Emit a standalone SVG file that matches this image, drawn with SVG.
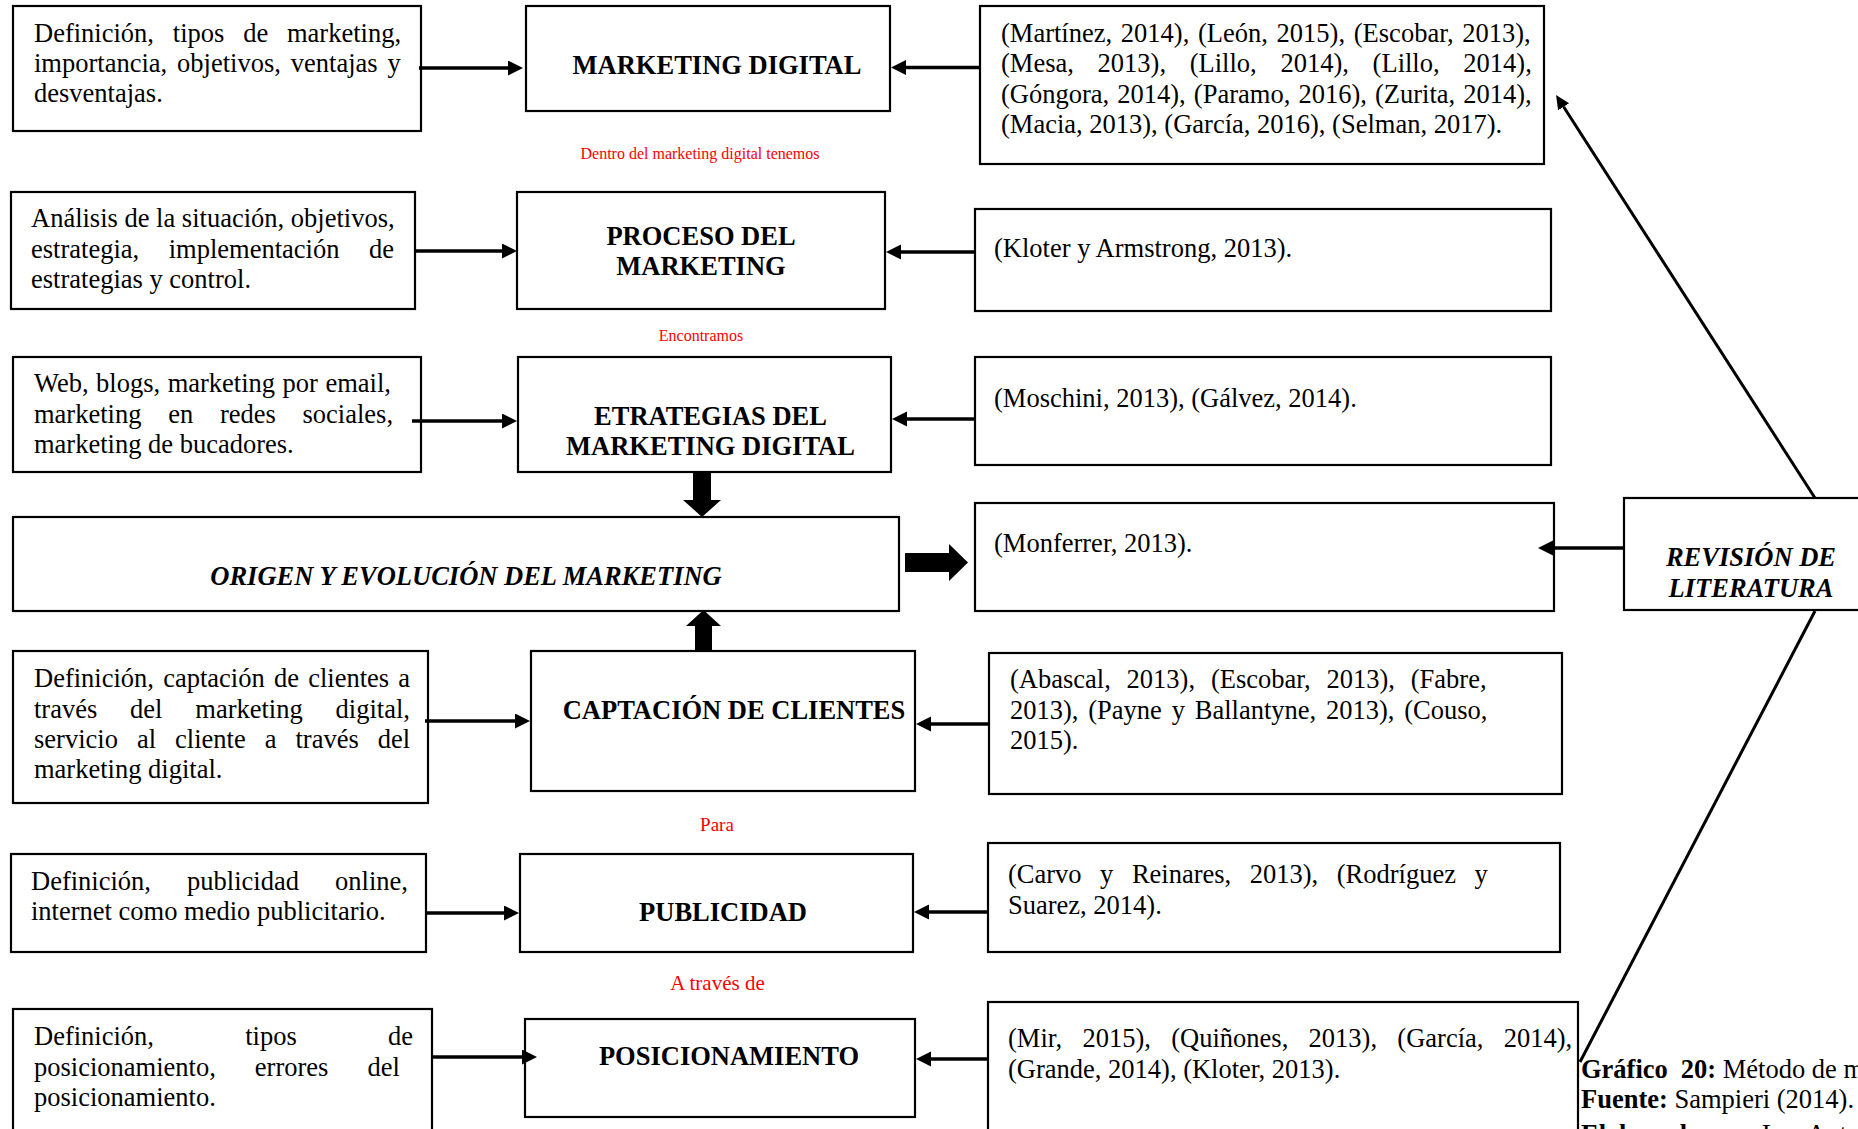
<svg xmlns="http://www.w3.org/2000/svg" width="1858" height="1129" viewBox="0 0 1858 1129">
<defs>
<style>
.box{fill:#fff;stroke:#000;stroke-width:2.2}
.t{font-family:'Liberation Serif','Times New Roman',serif;font-size:26.5px;fill:#000}
.b{font-weight:bold}
.bi{font-weight:bold;font-style:italic}
.c{text-anchor:middle}
.red{font-family:'Liberation Serif','Times New Roman',serif;fill:#ff0000;text-anchor:middle}
.ln{stroke:#000;stroke-width:3.5;fill:none}
.dl{stroke:#000;stroke-width:3;fill:none}
.fat{fill:#000;stroke:none}
</style>
<marker id="ah" markerUnits="userSpaceOnUse" markerWidth="16" markerHeight="16" refX="0" refY="7.5" orient="auto" viewBox="0 0 16 16">
<path d="M0,0 L15,7.5 L0,15 z" fill="#000"/>
</marker>
<marker id="ah2" markerUnits="userSpaceOnUse" markerWidth="14" markerHeight="14" refX="0" refY="6.5" orient="auto" viewBox="0 0 14 14">
<path d="M0,0 L14,6.5 L0,13 z" fill="#000"/>
</marker>
</defs>
<rect width="1858" height="1129" fill="#fff"/>

<g id="n-a1">
<rect class="box" x="13" y="6" width="408" height="125"/>
<text class="t"><tspan x="34" y="42" word-spacing="12.2">Definición, tipos de marketing,</tspan><tspan x="34" y="72" word-spacing="3.3">importancia, objetivos, ventajas y</tspan><tspan x="34" y="102">desventajas.</tspan></text>
</g>
<g id="n-b1">
<rect class="box" x="526" y="6" width="364" height="105"/>
<text class="t b c" x="717" y="74">MARKETING DIGITAL</text>
</g>
<g id="n-c1">
<rect class="box" x="980" y="6" width="564" height="158"/>
<text class="t"><tspan x="1001" y="42" word-spacing="2.1">(Martínez, 2014), (León, 2015), (Escobar, 2013),</tspan><tspan x="1001" y="72" word-spacing="17.1">(Mesa, 2013), (Lillo, 2014), (Lillo, 2014),</tspan><tspan x="1001" y="102.5" word-spacing="1.5">(Góngora, 2014), (Paramo, 2016), (Zurita, 2014),</tspan><tspan x="1001" y="133">(Macia, 2013), (García, 2016), (Selman, 2017).</tspan></text>
</g>

<g id="lbl-dentro"><text class="red" x="700" y="159" font-size="16">Dentro del marketing digital tenemos</text></g>

<g id="n-a2">
<rect class="box" x="11" y="192" width="404" height="117"/>
<text class="t"><tspan x="31" y="227">Análisis de la situación, objetivos,</tspan><tspan x="31" y="258" word-spacing="22.9">estrategia, implementación de</tspan><tspan x="31" y="288">estrategias y control.</tspan></text>
</g>
<g id="n-b2">
<rect class="box" x="517" y="192" width="368" height="117"/>
<text class="t b c"><tspan x="701" y="244.5">PROCESO DEL</tspan><tspan x="701" y="275">MARKETING</tspan></text>
</g>
<g id="n-c2">
<rect class="box" x="975" y="209" width="576" height="102"/>
<text class="t" x="994" y="257">(Kloter y Armstrong, 2013).</text>
</g>

<g id="lbl-encontramos"><text class="red" x="701" y="341" font-size="16">Encontramos</text></g>

<g id="n-a3">
<rect class="box" x="13" y="357" width="408" height="115"/>
<text class="t"><tspan x="34" y="392" word-spacing="0.9">Web, blogs, marketing por email,</tspan><tspan x="34" y="423" word-spacing="20.1">marketing en redes sociales,</tspan><tspan x="34" y="453">marketing de bucadores.</tspan></text>
</g>
<g id="n-b3">
<rect class="box" x="518" y="357" width="373" height="115"/>
<text class="t b c"><tspan x="710.5" y="424.5">ETRATEGIAS DEL</tspan><tspan x="710.5" y="455">MARKETING DIGITAL</tspan></text>
</g>
<g id="n-c3">
<rect class="box" x="975" y="357" width="576" height="108"/>
<text class="t" x="994" y="407">(Moschini, 2013), (Gálvez, 2014).</text>
</g>

<g id="n-d">
<rect class="box" x="13" y="517" width="886" height="94"/>
<text class="t bi c" x="466" y="585">ORIGEN Y EVOLUCIÓN DEL MARKETING</text>
</g>
<g id="n-c4">
<rect class="box" x="975" y="503" width="579" height="108"/>
<text class="t" x="994" y="552">(Monferrer, 2013).</text>
</g>
<g id="n-e">
<rect class="box" x="1624" y="498" width="240" height="112"/>
<text class="t bi c"><tspan x="1751" y="566">REVISIÓN DE</tspan><tspan x="1751" y="596.5">LITERATURA</tspan></text>
</g>

<g id="n-a5">
<rect class="box" x="13" y="651" width="415" height="152"/>
<text class="t"><tspan x="34" y="687" word-spacing="2.6">Definición, captación de clientes a</tspan><tspan x="34" y="718" word-spacing="26.2">través del marketing digital,</tspan><tspan x="34" y="748" word-spacing="12.4">servicio al cliente a través del</tspan><tspan x="34" y="778">marketing digital.</tspan></text>
</g>
<g id="n-b5">
<rect class="box" x="531" y="651" width="384" height="140"/>
<text class="t b c" x="734" y="718.5">CAPTACIÓN DE CLIENTES</text>
</g>
<g id="n-c5">
<rect class="box" x="989" y="653" width="573" height="141"/>
<text class="t"><tspan x="1010" y="688" word-spacing="9.2">(Abascal, 2013), (Escobar, 2013), (Fabre,</tspan><tspan x="1010" y="719" word-spacing="3.2">2013), (Payne y Ballantyne, 2013), (Couso,</tspan><tspan x="1010" y="749">2015).</tspan></text>
</g>

<g id="lbl-para"><text class="red" x="717" y="831" font-size="19">Para</text></g>

<g id="n-a6">
<rect class="box" x="11" y="854" width="415" height="98"/>
<text class="t"><tspan x="31" y="890" word-spacing="29.5">Definición, publicidad online,</tspan><tspan x="31" y="920">internet como medio publicitario.</tspan></text>
</g>
<g id="n-b6">
<rect class="box" x="520" y="854" width="393" height="98"/>
<text class="t b c" x="723" y="921">PUBLICIDAD</text>
</g>
<g id="n-c6">
<rect class="box" x="988" y="843" width="572" height="109"/>
<text class="t"><tspan x="1008" y="883" word-spacing="11.9">(Carvo y Reinares, 2013), (Rodríguez y</tspan><tspan x="1008" y="914">Suarez, 2014).</tspan></text>
</g>

<g id="lbl-atraves"><text class="red" x="717.5" y="990" font-size="21">A través de</text></g>

<g id="n-a7">
<rect class="box" x="13" y="1009" width="419" height="140"/>
<text class="t"><tspan x="34" y="1045" word-spacing="84.6">Definición, tipos de</tspan><tspan x="34" y="1076" word-spacing="32.4">posicionamiento, errores del</tspan><tspan x="34" y="1106">posicionamiento.</tspan></text>
</g>
<g id="n-b7">
<rect class="box" x="525" y="1019" width="390" height="98"/>
<text class="t b c" x="729" y="1064.5">POSICIONAMIENTO</text>
</g>
<g id="n-c7">
<rect class="box" x="988" y="1002" width="590" height="150"/>
<text class="t"><tspan x="1008" y="1047" word-spacing="13.7">(Mir, 2015), (Quiñones, 2013), (García, 2014),</tspan><tspan x="1008" y="1078">(Grande, 2014), (Kloter, 2013).</tspan></text>
</g>

<g id="caption">
<text class="t" x="1581" y="1078"><tspan class="b">Gráfico</tspan><tspan class="b" dx="13">20:</tspan> Método de m</text>
<text class="t" x="1581" y="1108"><tspan class="b">Fuente:</tspan> Sampieri (2014).</text>
<text class="t" x="1581" y="1143"><tspan class="b">Elaborado por:</tspan> Los Autores</text>
</g>

<g id="connectors">
<line class="ln" x1="419" y1="68" x2="508" y2="68" marker-end="url(#ah)"/>
<line class="ln" x1="980" y1="67.5" x2="906" y2="67.5" marker-end="url(#ah)"/>
<line class="ln" x1="416" y1="251" x2="502" y2="251" marker-end="url(#ah)"/>
<line class="ln" x1="975" y1="252" x2="901" y2="252" marker-end="url(#ah)"/>
<line class="ln" x1="412" y1="421" x2="502" y2="421" marker-end="url(#ah)"/>
<line class="ln" x1="975" y1="419" x2="907" y2="419" marker-end="url(#ah)"/>
<line class="ln" x1="425" y1="721" x2="515" y2="721" marker-end="url(#ah)"/>
<line class="ln" x1="989" y1="724" x2="931" y2="724" marker-end="url(#ah)"/>
<line class="ln" x1="425" y1="913" x2="504" y2="913" marker-end="url(#ah)"/>
<line class="ln" x1="988" y1="912" x2="929" y2="912" marker-end="url(#ah)"/>
<line class="ln" x1="432" y1="1057" x2="522" y2="1057" marker-end="url(#ah)"/>
<line class="ln" x1="988" y1="1059" x2="931" y2="1059" marker-end="url(#ah)"/>
<line class="ln" x1="1624" y1="548" x2="1553" y2="548" marker-end="url(#ah)"/>
<line class="dl" x1="1815" y1="498" x2="1563.6" y2="106.8" marker-end="url(#ah2)"/>
<line class="dl" x1="1815" y1="611" x2="1580" y2="1062"/>
<path class="fat" d="M693,472 H711 V500 H721 L702,517 L683,500 H693 Z"/>
<path class="fat" d="M695,651 H712 V626 H721 L703.5,610 L686,626 H695 Z"/>
<path class="fat" d="M905,553 H949 V544 L968,562.5 L949,581 V572 H905 Z"/>
</g>
</svg>
